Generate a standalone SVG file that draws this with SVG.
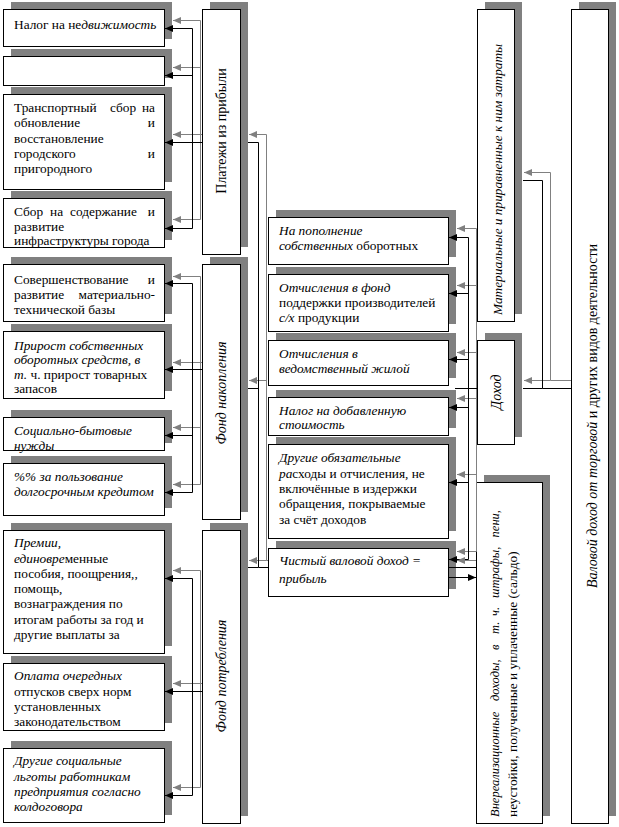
<svg xmlns="http://www.w3.org/2000/svg" width="619" height="827" viewBox="0 0 619 827">
<style>
.sh{fill:#808080}
.bx{fill:#fff;stroke:#000;stroke-width:1}
text{font-family:"Liberation Serif","Times New Roman",serif;font-size:13.33px;fill:#000}
.i{font-style:italic}
.vt{font-size:14px}
.k{fill:none;stroke:#000;stroke-width:1}
.g{fill:none;stroke:#808080;stroke-width:1}
.ka{fill:none;stroke:#000;stroke-width:1;marker-end:url(#ab)}
.ga{fill:none;stroke:#808080;stroke-width:1;marker-end:url(#ag)}
</style>
<defs>
<marker id="ab" markerWidth="9" markerHeight="8" refX="8" refY="4" orient="auto" markerUnits="userSpaceOnUse"><path d="M0,0.5 L8,4 L0,7.5 z" fill="#000"/></marker>
<marker id="ag" markerWidth="9" markerHeight="8" refX="8" refY="4" orient="auto" markerUnits="userSpaceOnUse"><path d="M0,0.5 L8,4 L0,7.5 z" fill="#808080"/></marker>
</defs>
<rect width="619" height="827" fill="#fff"/>

<!-- left column -->
<g id="n1"><rect class="sh" x="11" y="2" width="161" height="37"/><rect class="bx" x="3.5" y="9.5" width="161" height="37"/>
<text x="14" y="29">Налог на не<tspan class="i">движимость</tspan></text></g>
<g id="n2"><rect class="sh" x="11" y="49" width="161" height="29"/><rect class="bx" x="3.5" y="56.5" width="161" height="29"/></g>
<g id="n3"><rect class="sh" x="11" y="87" width="161" height="95"/><rect class="bx" x="3.5" y="94.5" width="161" height="95"/>
<text y="112"><tspan x="14">Транспортный</tspan><tspan x="110">сбор</tspan><tspan x="155" text-anchor="end">на</tspan></text>
<text y="127"><tspan x="14">обновление</tspan><tspan x="155" text-anchor="end">и</tspan></text>
<text x="14" y="143">восстановление</text>
<text y="158"><tspan x="14">городского</tspan><tspan x="155" text-anchor="end">и</tspan></text>
<text x="14" y="173">пригородного</text></g>
<g id="n4"><rect class="sh" x="11" y="191" width="161" height="49"/><rect class="bx" x="3.5" y="198.5" width="161" height="49"/>
<text y="216"><tspan x="14">Сбор</tspan><tspan x="50">на</tspan><tspan x="70">содержание</tspan><tspan x="155" text-anchor="end">и</tspan></text>
<text x="14" y="231">развитие</text>
<text x="14" y="245">инфраструктуры города</text></g>
<g id="p1"><rect class="sh" x="210" y="2" width="38" height="245"/><rect class="bx" x="202.5" y="9.5" width="38" height="245"/>
<text class="vt" transform="translate(221,131) rotate(-90)" text-anchor="middle" dy="0.35em">Платежи из прибыли</text></g>

<g id="n5"><rect class="sh" x="11" y="257" width="161" height="57"/><rect class="bx" x="3.5" y="264.5" width="161" height="57"/>
<text y="284"><tspan x="14">Совершенствование</tspan><tspan x="155" text-anchor="end">и</tspan></text>
<text y="299"><tspan x="14">развитие</tspan><tspan x="155" text-anchor="end">материально-</tspan></text>
<text x="14" y="314">технической базы</text></g>
<g id="n6"><rect class="sh" x="11" y="324" width="161" height="67"/><rect class="bx" x="3.5" y="331.5" width="161" height="67"/>
<text x="14" y="350" class="i">Прирост собственных</text>
<text x="14" y="364" class="i">оборотных средств, в</text>
<text x="14" y="379"><tspan class="i">т.</tspan> ч. прирост товарных</text>
<text x="14" y="393">запасов</text></g>
<g id="n7"><rect class="sh" x="11" y="410" width="161" height="33"/><rect class="bx" x="3.5" y="417.5" width="161" height="33"/>
<text x="14" y="435" class="i">Социально-бытовые</text>
<text x="14" y="450" class="i">нужды</text></g>
<g id="n8"><rect class="sh" x="11" y="456" width="161" height="52"/><rect class="bx" x="3.5" y="463.5" width="161" height="52"/>
<text x="14" y="481" class="i">%% за пользование</text>
<text x="14" y="496" class="i">долгосрочным кредитом</text></g>
<g id="p2"><rect class="sh" x="210" y="257" width="38" height="255"/><rect class="bx" x="202.5" y="264.5" width="38" height="255"/>
<text class="vt i" transform="translate(221,393) rotate(-90)" text-anchor="middle" dy="0.35em">Фонд накопления</text></g>

<g id="n9"><rect class="sh" x="11" y="523" width="161" height="123"/><rect class="bx" x="3.5" y="530.5" width="161" height="123"/>
<text x="14" y="547" class="i">Премии,</text>
<text x="14" y="563"><tspan class="i">единовре</tspan>менные</text>
<text x="14" y="578">пособия, поощрения,,</text>
<text x="14" y="593">помощь,</text>
<text x="14" y="608">вознаграждения по</text>
<text x="14" y="624">итогам работы за год и</text>
<text x="14" y="639">другие выплаты за</text></g>
<g id="n10"><rect class="sh" x="11" y="656" width="161" height="67"/><rect class="bx" x="3.5" y="663.5" width="161" height="67"/>
<text x="14" y="680" class="i">Оплата очередных</text>
<text x="14" y="696">отпусков сверх норм</text>
<text x="14" y="711">установленных</text>
<text x="14" y="726">законодательством</text></g>
<g id="n11"><rect class="sh" x="11" y="741" width="161" height="74"/><rect class="bx" x="3.5" y="748.5" width="161" height="74"/>
<text x="14" y="765" class="i">Другие социальные</text>
<text x="14" y="781" class="i">льготы работникам</text>
<text x="14" y="796" class="i">предприятия согласно</text>
<text x="14" y="811" class="i">колдоговора</text></g>
<g id="p3"><rect class="sh" x="210" y="523" width="38" height="293"/><rect class="bx" x="202.5" y="530.5" width="38" height="293"/>
<text class="vt i" transform="translate(221,676) rotate(-90)" text-anchor="middle" dy="0.35em">Фонд потребления</text></g>

<!-- middle column -->
<g id="mA"><rect class="sh" x="276" y="210" width="180" height="47"/><rect class="bx" x="268.5" y="217.5" width="180" height="47"/>
<text x="279" y="235" class="i">На пополнение</text>
<text x="279" y="250"><tspan class="i">собственных</tspan> оборотных</text></g>
<g id="mB"><rect class="sh" x="276" y="267" width="180" height="57"/><rect class="bx" x="268.5" y="274.5" width="180" height="57"/>
<text x="279" y="292" class="i">Отчисления в фонд</text>
<text x="279" y="307">поддержки производителей</text>
<text x="279" y="322"><tspan class="i">с/х</tspan> продукции</text></g>
<g id="mC"><rect class="sh" x="276" y="333" width="180" height="45"/><rect class="bx" x="268.5" y="340.5" width="180" height="45"/>
<text x="279" y="358" class="i">Отчисления в</text>
<text x="279" y="373" class="i">ведомственный жилой</text></g>
<g id="mD"><rect class="sh" x="276" y="390" width="180" height="38"/><rect class="bx" x="268.5" y="397.5" width="180" height="38"/>
<text x="279" y="415" class="i">Налог на добавленную</text>
<text x="279" y="429" class="i">стоимость</text></g>
<g id="mE"><rect class="sh" x="276" y="437" width="180" height="94"/><rect class="bx" x="268.5" y="444.5" width="180" height="94"/>
<text x="279" y="462" class="i">Другие обязательные</text>
<text x="279" y="478"><tspan class="i">ра</tspan>сходы и отчисления, не</text>
<text x="279" y="493">включённые в издержки</text>
<text x="279" y="508">обращения, покрываемые</text>
<text x="279" y="524">за счёт доходов</text></g>
<g id="mF"><rect class="sh" x="276" y="541" width="180" height="48"/><rect class="bx" x="268.5" y="548.5" width="180" height="48"/>
<text x="279" y="565" class="i">Чистый валовой доход =</text>
<text x="279" y="583" class="i">прибыль</text></g>

<!-- right -->
<g id="r1"><rect class="sh" x="485" y="2" width="37" height="312"/><rect class="bx" x="477.5" y="9.5" width="37" height="312"/>
<text class="i" transform="translate(502,315) rotate(-90)">Материальные и приравненные к ним затраты</text></g>
<g id="r2"><rect class="sh" x="485" y="333" width="37" height="104"/><rect class="bx" x="477.5" y="340.5" width="37" height="104"/>
<text class="vt i" transform="translate(496,392) rotate(-90)" text-anchor="middle" dy="0.35em">Доход</text></g>
<g id="r3"><rect class="sh" x="484" y="475" width="66" height="341"/><rect class="bx" x="476.5" y="482.5" width="66" height="341"/>
<text class="i" style="font-size:12.5px" transform="translate(499,817) rotate(-90)"><tspan x="0">Внереализационные</tspan><tspan x="116">доходы,</tspan><tspan x="167">в</tspan><tspan x="183">т.</tspan><tspan x="201">ч.</tspan><tspan x="219">штрафы,</tspan><tspan x="307" text-anchor="end">пени,</tspan></text>
<text transform="translate(517,817) rotate(-90)">неустойки, полученные и уплаченные (сальдо)</text></g>
<g id="r4"><rect class="sh" x="579" y="2" width="37" height="814"/><rect class="bx" x="571.5" y="9.5" width="37" height="814"/>
<text class="vt" transform="translate(592,416) rotate(-90)" text-anchor="middle" dy="0.35em"><tspan class="i">Валовой доход от торговой</tspan> и других видов деятельности</text></g>

<g id="connectors">
<!-- Платежи -->
<path class="g" d="M200.5,20.5 V219.5"/>
<path class="ga" d="M200.5,20.5 H173"/><path class="ga" d="M200.5,67.5 H173"/><path class="ga" d="M202,134.5 H173"/><path class="ga" d="M200.5,219.5 H173"/>
<path class="k" d="M192.5,28.5 V228.5"/>
<path class="ka" d="M192.5,28.5 H165"/><path class="ka" d="M192.5,75.5 H165"/><path class="ka" d="M202,142.5 H165"/><path class="ka" d="M192.5,228.5 H165"/>
<!-- Фонд накопления -->
<path class="g" d="M200.5,276.5 V484.5"/>
<path class="ga" d="M200.5,276.5 H173"/><path class="ga" d="M202,362.5 H173"/><path class="ga" d="M200.5,427.5 H173"/><path class="ga" d="M200.5,484.5 H173"/>
<path class="k" d="M192.5,283.5 V492.5"/>
<path class="ka" d="M192.5,283.5 H165"/><path class="ka" d="M202,369.5 H165"/><path class="ka" d="M192.5,435.5 H165"/><path class="ka" d="M192.5,492.5 H165"/>
<!-- Фонд потребления -->
<path class="g" d="M200.5,570.5 V787.5"/>
<path class="ga" d="M200.5,570.5 H173"/><path class="ga" d="M202,683.5 H173"/><path class="ga" d="M200.5,787.5 H173"/>
<path class="k" d="M192.5,578.5 V795.5"/>
<path class="ka" d="M192.5,578.5 H165"/><path class="ka" d="M202,691.5 H165"/><path class="ka" d="M192.5,795.5 H165"/>
<!-- прибыль -> фонды -->
<path class="g" d="M268,560.5 H266.5 V134.5"/>
<path class="ga" d="M266.5,134.5 H249"/><path class="ga" d="M266.5,380.5 H249"/><path class="ga" d="M266.5,560.5 H249"/>
<path class="k" d="M248,142.5 H258.5 V567.5 H268"/>
<path class="k" d="M248,388.5 H258.5"/><path class="k" d="M248,567.5 H258.5"/>
<!-- доход -> средний столбец -->
<path class="g" d="M476.5,228.5 V551.5"/>
<path class="ga" d="M476.5,228.5 H457"/><path class="ga" d="M476.5,285.5 H457"/><path class="ga" d="M476.5,352.5 H457"/><path class="ga" d="M476.5,398.5 H457"/><path class="ga" d="M476.5,474.5 H457"/><path class="ga" d="M476.5,551.5 H457"/>
<path class="k" d="M468.5,237.5 V559.5"/>
<path class="ka" d="M468.5,237.5 H449"/><path class="ka" d="M468.5,293.5 H449"/><path class="ka" d="M468.5,359.5 H449"/><path class="ka" d="M468.5,407.5 H449"/><path class="ka" d="M468.5,482.5 H449"/><path class="ka" d="M468.5,559.5 H449"/>
<path class="k" d="M455,388.5 H477"/>
<path class="ga" d="M476,560.5 H457"/>
<path class="k" d="M476,567.5 H449"/>
<path class="ka" d="M449,577.5 H476"/>
<!-- валовой доход -->
<path class="g" d="M571,380.5 H550.5 V172.5"/>
<path class="ga" d="M550.5,172.5 H524"/><path class="ga" d="M550.5,380.5 H524"/>
<path class="k" d="M571,388.5 H542.5 V180.5 H523"/>
<path class="k" d="M542.5,388.5 H523"/>
</g>
</svg>
